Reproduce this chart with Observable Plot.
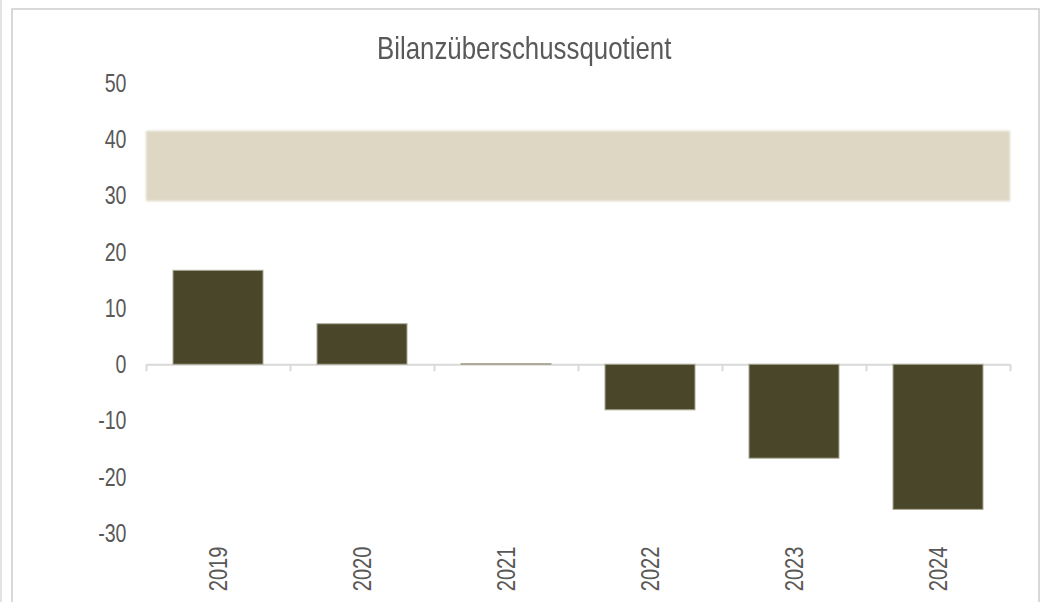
<!DOCTYPE html>
<html>
<head>
<meta charset="utf-8">
<script src="https://cdn.jsdelivr.net/npm/d3@7"></script>
<script src="https://cdn.jsdelivr.net/npm/@observablehq/plot@0.6"></script>
<style>
  html, body { margin: 0; padding: 0; background: #fff; overflow: hidden; }
  #wrap { position: relative; width: 1048px; height: 602px; }
  #title { position: absolute; left: 0; width: 1048px; top: 29px; text-align: center;
           font-family: "Liberation Sans", Arial, sans-serif;
           font-size: 31.5px; line-height: 38px; color: #595959;
           transform: scaleX(0.82); transform-origin: 525px 50%; }
  .frame { position: absolute; pointer-events: none; box-sizing: border-box; }
  #frame1 { left: 11px; top: 8px; width: 1029px; height: 700px; border: 2px solid #d9d9d9; }
  #frame0 { left: 0px; top: 0px; width: 3px; height: 700px; border-left: 2px solid #e3e3e3; }
</style>
</head>
<body>
<div id="wrap">
  <div id="chart"></div>
  <div id="title">Bilanzüberschussquotient</div>
  <div class="frame" id="frame0"></div>
  <div class="frame" id="frame1"></div>
</div>
<script>
const years = ["2019", "2020", "2021", "2022", "2023", "2024"];
const values = [16.7, 7.2, 0.1, -8.1, -16.7, -25.8];
const bandLow = [29];
const bandHigh = [41.5];
const yTicks = [50, 40, 30, 20, 10, 0, -10, -20, -30];

const data = years.map((y, i) => ({year: y, value: values[i]}));
const band = bandLow.map((lo, i) => ({lo, hi: bandHigh[i]}));

const W = 1048, H = 602;
const ML = 146, MR = 38, MT = 83, MB = 69;
const step = (W - ML - MR) / years.length;
const pxPerUnit = (H - MT - MB) / 80;
const tickLen = 7 / pxPerUnit;
const font = '"Liberation Sans", Arial, sans-serif';
const FS = 26.5;

const ruleOpts = {x: d => d, y1: 0, y2: -tickLen, stroke: "#d9d9d9", strokeWidth: 2};

const plot = Plot.plot({
  width: W, height: H,
  marginLeft: ML, marginRight: MR, marginTop: MT, marginBottom: MB,
  x: {domain: years, paddingInner: 0.375, paddingOuter: 0.1875, label: null},
  y: {domain: [-30, 50], label: null},
  style: {fontFamily: font, color: "#595959", background: "transparent"},
  marks: [
    Plot.rect(band, {y1: "lo", y2: "hi", fill: "#DDD7C4", imageFilter: "blur(1.2px)"}),
    Plot.ruleY([0], {stroke: "#d9d9d9", strokeWidth: 2}),
    Plot.ruleX(years, {...ruleOpts, dx: -step / 2}),
    Plot.ruleX(years.slice(-1), {...ruleOpts, dx: step / 2}),
    Plot.barY(data, {x: "year", y: "value", fill: "#4A4629", stroke: "#aaa893", strokeWidth: 1}),
    Plot.axisY({ticks: yTicks, tickSize: 0, tickPadding: 20, fontSize: FS, tickFormat: d => String(d)}),
    Plot.axisX({tickSize: 0, tickRotate: -90, tickPadding: 13, fontSize: FS})
  ]
});
document.getElementById("chart").appendChild(plot);

// condense the tick labels along their reading direction (the reference uses a narrow face)
function condense(selector, sx) {
  plot.querySelectorAll(selector).forEach(t => {
    const tr = t.getAttribute("transform") || "";
    const xs = t.getAttribute("x");
    let ax = 0;
    if (xs) ax = xs.trim().endsWith("em") ? parseFloat(xs) * FS : parseFloat(xs) || 0;
    t.setAttribute("transform", `${tr} translate(${ax},0) scale(${sx},1) translate(${-ax},0)`);
  });
}
condense('g[aria-label="y-axis tick label"] text', 0.74);
condense('g[aria-label="x-axis tick label"] text', 0.76);
</script>
</body>
</html>
